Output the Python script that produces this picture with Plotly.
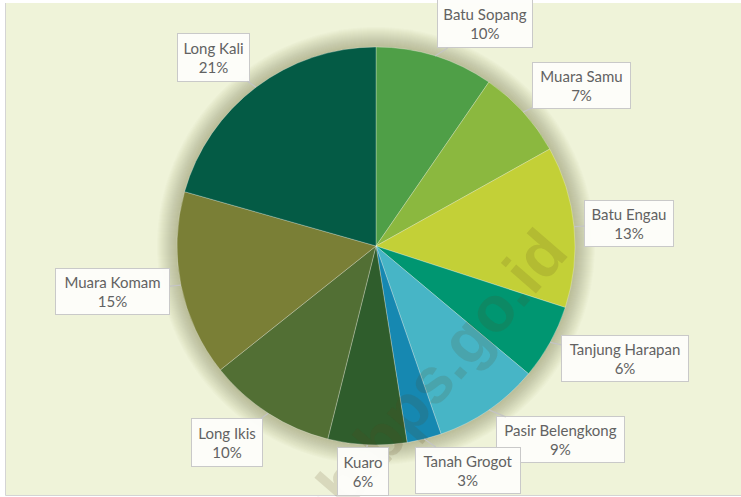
import math
import plotly.graph_objects as go

# ---------------- data ----------------
districts = ["Batu Sopang", "Muara Samu", "Batu Engau", "Tanjung Harapan",
             "Pasir Belengkong", "Tanah Grogot", "Kuaro", "Long Ikis",
             "Muara Komam", "Long Kali"]
shares = [9.6, 7.3, 13.1, 6.1, 8.6, 2.8, 6.4, 10.4, 15.1, 20.6]
pct_labels = ["10%", "7%", "13%", "6%", "9%", "3%", "6%", "10%", "15%", "21%"]

colors = ["#4F9F47", "#8BB83F", "#C3D037", "#009671", "#47B5C6",
          "#1688B1", "#2F5D2C", "#526F34", "#7A7F36", "#045B45"]

# ---------------- layout / style ----------------
W, H = 741, 497
CX, CY, R = 376, 246, 199          # pie centre and radius in px
# callout box offsets from the slice edge point (px) and box sizes (px)
box_off = [(50, -32), (58, -27), (55, -3), (75, 16), (72, 30),
           (44, 31), (-4, 27), (-41, 29), (-68, 6), (-43, -30)]
box_size = [(96, 49), (99, 47), (90, 47), (128, 47), (129, 47),
            (106, 47), (52, 49), (72, 49), (115, 47), (73, 49)]

def px(x):
    return x / W

def py(y):
    return 1 - y / H

fig = go.Figure()
fig.add_trace(go.Pie(
    labels=districts, values=shares, sort=False, direction="clockwise",
    rotation=0, textinfo="none", hoverinfo="label+percent",
    marker=dict(colors=colors, line=dict(color="rgba(255,255,255,0.35)", width=0.8)),
    domain=dict(x=[px(CX - R), px(CX + R)], y=[py(CY + R), py(CY - R)]),
    showlegend=False,
))

shapes = [
    dict(type="rect", xref="paper", yref="paper", x0=px(5.5), x1=1.01,
         y0=py(495.5), y1=py(3), fillcolor="#EFF3D9", line=dict(width=0), layer="below"),
    dict(type="line", xref="paper", yref="paper", x0=px(5.5), x1=px(5.5),
         y0=py(495.5), y1=py(3), line=dict(color="#D4D4D4", width=1), layer="below"),
    dict(type="line", xref="paper", yref="paper", x0=px(5.5), x1=1.01,
         y0=py(495.5), y1=py(495.5), line=dict(color="#D4D4D4", width=1), layer="below"),
]
# soft shadow halo around the pie
for k in range(20, 0, -1):
    r = R + k
    shapes.append(dict(type="circle", xref="paper", yref="paper",
                       x0=px(CX - r), x1=px(CX + r), y0=py(CY + r), y1=py(CY - r),
                       fillcolor="rgba(120,110,60,0.018)", line=dict(width=0),
                       layer="below"))

annotations = [
    dict(text="<b>paserkab.bps.go.id</b>", xref="paper", yref="paper",
         x=px(362), y=py(460), xanchor="center", yanchor="middle",
         showarrow=False, textangle=-49,
         font=dict(family="Liberation Sans", size=64, color="rgba(90,70,30,0.15)")),
]

total = sum(shares)
cum = 0.0
for name, v, lab, (dx, dy), (bw, bh) in zip(districts, shares, pct_labels, box_off, box_size):
    mid = (cum + v / 2) / total * 2 * math.pi
    cum += v
    tx = CX + R * math.sin(mid)
    ty = CY - R * math.cos(mid)
    annotations.append(dict(
        text=f"{name}<br>{lab}", xref="paper", yref="paper",
        x=px(tx), y=py(ty), ax=dx, ay=dy, showarrow=True,
        arrowhead=0, arrowwidth=1.2, arrowcolor="#C4C4C4", standoff=0,
        width=bw - 2, height=bh - 2, align="center", valign="middle",
        bgcolor="rgba(253,253,250,0.97)", bordercolor="#C9C9C9", borderwidth=1,
        borderpad=0,
        font=dict(family="Lato", size=15, color="#626262"),
    ))

fig.update_layout(
    width=W, height=H, margin=dict(l=0, r=0, t=0, b=0),
    paper_bgcolor="white", plot_bgcolor="white",
    shapes=shapes, annotations=annotations, showlegend=False,
)

fig.write_html("out.html", config={"displayModeBar": False},
               post_script="document.body.style.margin='0';document.body.style.overflow='hidden';")
